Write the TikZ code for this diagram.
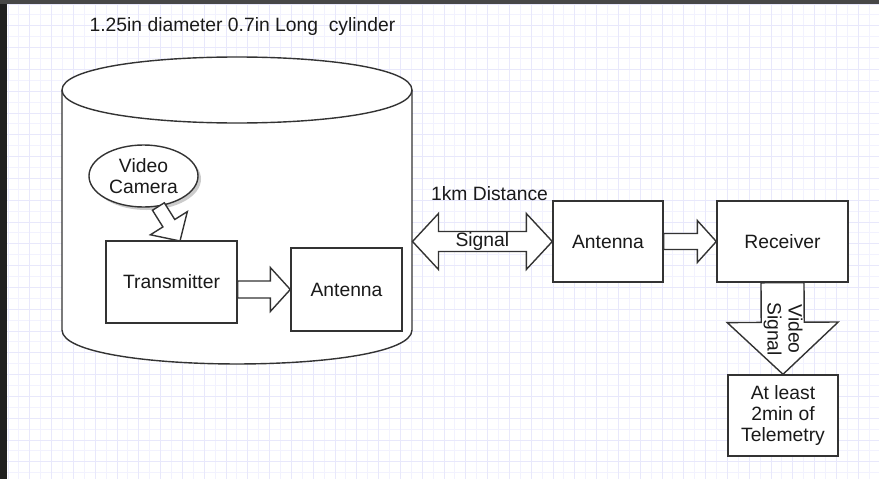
\documentclass[tikz,border=0pt]{standalone}
\usepackage{fontspec}
\setmainfont{Liberation Sans}
\usetikzlibrary{calc,shapes.geometric,shadows}

\definecolor{edge}{HTML}{333333}
\definecolor{ink}{HTML}{1A1A1A}
\definecolor{gridminor}{HTML}{F2F2FE}
\definecolor{gridmajor}{HTML}{E8E8FB}

\tikzset{
  txt/.style={font=\fontsize{19.3}{21}\selectfont, text=ink, inner sep=0pt, align=center},
  box/.style={txt, draw=edge, line width=1.4pt, fill=white},
  arrline/.style={draw=edge, line width=1.4pt, fill=white, line join=miter},
  blkarr/.style args={#1/#2/#3}{
    to path={($(\tikztostart)!#1!90:(\tikztotarget)$)
      -- ($(\tikztotarget)!#3!(\tikztostart)!#1!-90:(\tikztostart)$)
      -- ($(\tikztotarget)!#3!(\tikztostart)!#2!-90:(\tikztostart)$)
      -- (\tikztotarget)
      -- ($(\tikztotarget)!#3!(\tikztostart)!#2!90:(\tikztostart)$)
      -- ($(\tikztotarget)!#3!(\tikztostart)!#1!90:(\tikztostart)$)
      -- ($(\tikztostart)!#1!-90:(\tikztotarget)$) -- cycle}},
  dblarr/.style args={#1/#2/#3}{
    to path={(\tikztostart)
      -- ($(\tikztostart)!#3!(\tikztotarget)!#2!90:(\tikztotarget)$)
      -- ($(\tikztostart)!#3!(\tikztotarget)!#1!90:(\tikztotarget)$)
      -- ($(\tikztotarget)!#3!(\tikztostart)!#1!-90:(\tikztostart)$)
      -- ($(\tikztotarget)!#3!(\tikztostart)!#2!-90:(\tikztostart)$)
      -- (\tikztotarget)
      -- ($(\tikztotarget)!#3!(\tikztostart)!#2!90:(\tikztostart)$)
      -- ($(\tikztotarget)!#3!(\tikztostart)!#1!90:(\tikztostart)$)
      -- ($(\tikztostart)!#3!(\tikztotarget)!#1!-90:(\tikztotarget)$)
      -- ($(\tikztostart)!#3!(\tikztotarget)!#2!-90:(\tikztotarget)$) -- cycle}}
}

\begin{document}
\begin{tikzpicture}[x=1pt,y=-1pt]
\useasboundingbox (0,0) rectangle (879,479);
% page and grid
\fill[white] (0,0) rectangle (879,479);
\foreach \gx in {0,...,80} {
  \draw[gridminor, line width=1pt] ({8+10.9*\gx},4) -- ({8+10.9*\gx},479);
}
\foreach \gy in {0,...,44} {
  \draw[gridminor, line width=1pt] (7,{4+10.9*\gy}) -- (879,{4+10.9*\gy});
}
\foreach \gx in {0,...,40} {
  \draw[gridmajor, line width=1pt] ({8+21.8*\gx},4) -- ({8+21.8*\gx},479);
}
\foreach \gy in {0,...,22} {
  \draw[gridmajor, line width=1pt] (7,{4+21.8*\gy}) -- (879,{4+21.8*\gy});
}
\fill[black!88] (0,0) rectangle (7,479);
\fill[black!72] (0,0) rectangle (879,4);

% cylinder
\draw[edge, line width=1.4pt, fill=white] (62,90) -- (62,330)
  .. controls (62,375.3) and (412,375.3) .. (412,330) -- (412,90)
  .. controls (412,46) and (62,46) .. (62,90) -- cycle;
\draw[edge, line width=1.4pt] (62,90) .. controls (62,134) and (412,134) .. (412,90);

% blocks
\node[box, ellipse, minimum width=109pt, minimum height=62pt,
  drop shadow={shadow xshift=3pt, shadow yshift=-3pt, fill=black!40, opacity=0.5}]
  (cam) at (143.5,176) {Video\\Camera};
\node[box, minimum width=131pt, minimum height=82pt] (tx) at (171.5,282) {Transmitter};
\node[box, minimum width=111pt, minimum height=83pt] (ant) at (346.5,289.5) {Antenna};
\node[box, minimum width=110pt, minimum height=81pt] (ant2) at (608,241.5) {Antenna};
\node[box, minimum width=131pt, minimum height=81pt] (rec) at (782.5,241.5) {Receiver};
\node[box, minimum width=110pt, minimum height=81pt] (tel) at (783,415.5) {At least\\2min of\\Telemetry};

\coordinate (camtip) at (180,241);
\coordinate (cylr) at (412.5,241.5);

% block arrows
\draw[arrline] (cam.-64) to[blkarr={7pt/21.8pt/21pt}] (camtip);
\draw[arrline] (tx.east |- ant.west) to[blkarr={8.5pt/22pt/20pt}] (ant.west);
\draw[arrline] (cylr) to[dblarr={10pt/28pt/26pt}] (ant2.west);
\draw[arrline] (ant2.east) to[blkarr={8pt/21pt/19pt}] (rec.west);
\draw[arrline] (rec.south) to[blkarr={21.5pt/55.5pt/52pt}] (tel.north);

% labels
\node[txt] (title) at (242.5,27) {1.25in diameter 0.7in Long\ \ cylinder};
\node[txt] (dist) at (489.5,194) {1km Distance};
\node[txt] (sig) at ($(cylr)!0.5!(ant2.west)$) {Signal};
\node[txt, rotate=-90] (vsig) at (783,329) {Video\\Signal};
\end{tikzpicture}
\end{document}
